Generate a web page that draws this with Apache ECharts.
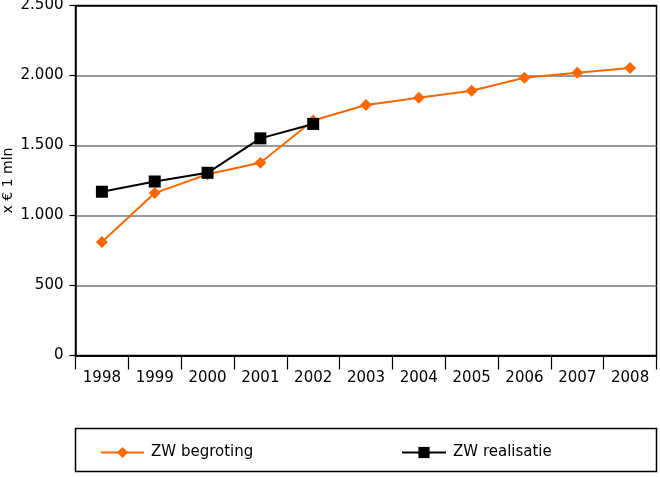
<!DOCTYPE html>
<html>
<head>
<meta charset="utf-8">
<script src="https://cdn.jsdelivr.net/npm/echarts@6/dist/echarts.min.js"></script>
<style>html,body{margin:0;padding:0;background:#fff;}#c{width:660px;height:477px;}</style>
</head>
<body>
<div id="c"></div>
<script>
var years = ['1998','1999','2000','2001','2002','2003','2004','2005','2006','2007','2008'];
var begroting = [810, 1160, 1295, 1377, 1678, 1789, 1841, 1891, 1984, 2020, 2054];
var realisatie = [1170, 1243, 1305, 1551, 1654, null, null, null, null, null, null];
var yTicks = [0, 500, 1000, 1500, 2000, 2500];

var FONT = '"DejaVu Sans", Verdana, sans-serif';
var chart = echarts.init(document.getElementById('c'), null, {renderer: 'canvas'});
chart.setOption({
  animation: false,
  textStyle: {fontFamily: FONT, color: '#000'},
  grid: {left: 75.5, right: 3.5, top: 5.5, bottom: 121.5, containLabel: false, outerBoundsMode: 'none',
         show: true, borderColor: '#000', borderWidth: 1.5, backgroundColor: 'transparent'},
  xAxis: {
    type: 'category',
    data: years,
    boundaryGap: true,
    axisLine: {lineStyle: {color: '#000', width: 1.5}},
    axisTick: {show: true, length: 14, interval: 0, lineStyle: {color: '#000', width: 1.2}},
    axisLabel: {color: '#000', fontSize: 15, fontFamily: FONT, margin: 15, interval: 0}
  },
  yAxis: {
    type: 'value',
    min: yTicks[0],
    max: yTicks[yTicks.length - 1],
    interval: 500,
    name: 'x € 1 mln',
    nameLocation: 'middle',
    nameRotate: 90,
    nameGap: 60,
    nameMoveOverlap: false,
    nameTextStyle: {color: '#000', fontSize: 14, fontFamily: FONT},
    axisLine: {show: true, lineStyle: {color: '#000', width: 1.5}},
    axisTick: {show: true, length: 6, lineStyle: {color: '#000', width: 1.2}},
    axisLabel: {
      color: '#000', fontSize: 15, fontFamily: FONT, margin: 12,
      formatter: function (v) { return v >= 1000 ? Math.floor(v / 1000) + '.' + String(v % 1000).padStart(3, '0') : String(v); }
    },
    splitLine: {show: true, lineStyle: {color: ['#000', '#777', '#777', '#777', '#777', '#000'], width: 1.5}}
  },
  legend: [
    {
      left: 95, top: 440,
      itemWidth: 43, itemHeight: 14, itemGap: 10,
      textStyle: {fontSize: 15, fontFamily: FONT, color: '#000', padding: [0, 0, 0, 2]},
      data: ['ZW begroting']
    },
    {
      left: 396, top: 440,
      itemWidth: 44, itemHeight: 14, itemGap: 10,
      textStyle: {fontSize: 15, fontFamily: FONT, color: '#000', padding: [0, 0, 0, 2]},
      data: ['ZW realisatie']
    }
  ],
  graphic: [{
    type: 'rect',
    shape: {x: 75.5, y: 428.5, width: 581, height: 43},
    style: {fill: 'none', stroke: '#000', lineWidth: 1.5},
    silent: true
  }],
  series: [
    {
      name: 'ZW begroting',
      type: 'line',
      data: begroting,
      symbol: 'diamond',
      symbolSize: 12,
      itemStyle: {color: '#FF6600'},
      lineStyle: {color: '#FF6600', width: 2},
      z: 2
    },
    {
      name: 'ZW realisatie',
      type: 'line',
      data: realisatie,
      symbol: 'rect',
      symbolSize: 12,
      itemStyle: {color: '#000'},
      lineStyle: {color: '#000', width: 2},
      z: 3
    }
  ]
});
</script>
</body>
</html>
